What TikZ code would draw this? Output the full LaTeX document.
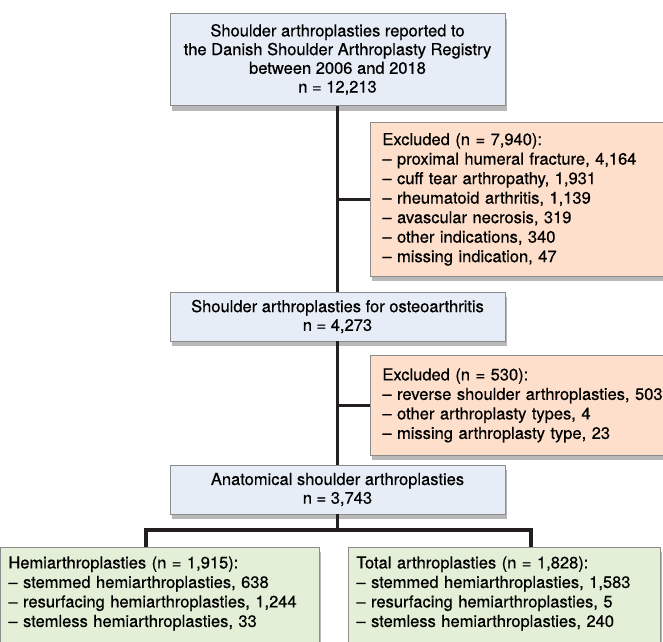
\documentclass[tikz,border=0pt]{standalone}
\usepackage{fontspec}
\setmainfont{TeX Gyre Heros}[FakeBold=0.6]
\usetikzlibrary{positioning, shadows}

\definecolor{boxblue}{HTML}{E7EDF7}
\definecolor{boxpeach}{HTML}{FDDFCB}
\definecolor{boxgreen}{HTML}{E3EFD7}
\definecolor{boxline}{HTML}{8C8C8C}
\definecolor{linkline}{HTML}{231F20}

\begin{document}
\begin{tikzpicture}[x=1pt, y=-1pt,
    box/.style={draw=boxline, line width=0.8pt, inner xsep=8pt, inner ysep=0pt,
        font=\fontsize{16.5}{19.5}\selectfont,
        drop shadow={shadow xshift=1.5pt, shadow yshift=-5pt, fill=black, opacity=0.28}},
    mainbox/.style={box, fill=boxblue, align=center, minimum width=335pt,
        font=\fontsize{16.5}{18.7}\selectfont},
    exclbox/.style={box, fill=boxpeach, align=left, anchor=north west,
        inner xsep=12pt, text width=290pt},
    armbox/.style={box, fill=boxgreen, align=left, anchor=north west,
        inner ysep=9pt, text depth=100pt},
    link/.style={draw=linkline, line width=3.6pt}]
                \useasboundingbox (0,0) rectangle (663,641);
                % main flow
                \node[mainbox, minimum height=92pt] (reg) at (337.5,59.5) {Shoulder arthroplasties reported to\\the Danish Shoulder Arthroplasty Registry\\between 2006 and 2018\\n = 12,213};
                \node[mainbox, minimum height=49pt] (oa) at (337.5,316.5) {Shoulder arthroplasties for osteoarthritis\\n = 4,273};
                \node[mainbox, minimum height=49pt] (anat) at (337.5,489.5) {Anatomical shoulder arthroplasties\\n = 3,743};
                % exclusions
                \node[exclbox, minimum height=154pt] (ex_1) at (370,122) {Excluded (n = 7,940):\\-- proximal humeral fracture, 4,164\\-- cuff tear arthropathy, 1,931\\-- rheumatoid arthritis, 1,139\\-- avascular necrosis, 319\\-- other indications, 340\\-- missing indication, 47};
                \node[exclbox, minimum height=100pt] (ex_2) at (370,355) {Excluded (n = 530):\\-- reverse shoulder arthroplasties, 503\\-- other arthroplasty types, 4\\-- missing arthroplasty type, 23};
                % arms
                \node[armbox, text width=303pt] (hemi) at (0,547) {Hemiarthroplasties (n = 1,915):\\-- stemmed hemiarthroplasties, 638\\-- resurfacing hemiarthroplasties, 1,244\\-- stemless hemiarthroplasties, 33};
                \node[armbox, text width=296pt] (total) at (348,547) {Total arthroplasties (n = 1,828):\\-- stemmed hemiarthroplasties, 1,583\\-- resurfacing hemiarthroplasties, 5\\-- stemless hemiarthroplasties, 240};
                \coordinate (fork) at (337.5,530);
                \coordinate (fork_l) at (146,530);
                \coordinate (fork_r) at (531,530);
                % connectors
                \draw[link] (reg) -- (oa);
                \draw[link] (oa) -- (anat);
                \draw[link] (reg.south |- ex_1.west) -- (ex_1.west);
                \draw[link] (oa.south |- ex_2.west) -- (ex_2.west);
                \draw[link] (anat) -- (fork);
                \draw[link] (hemi.north -| fork_l) -- (fork_l) -- (fork_r) -- (fork_r |- total.north);
        \end{tikzpicture}
\end{document}
